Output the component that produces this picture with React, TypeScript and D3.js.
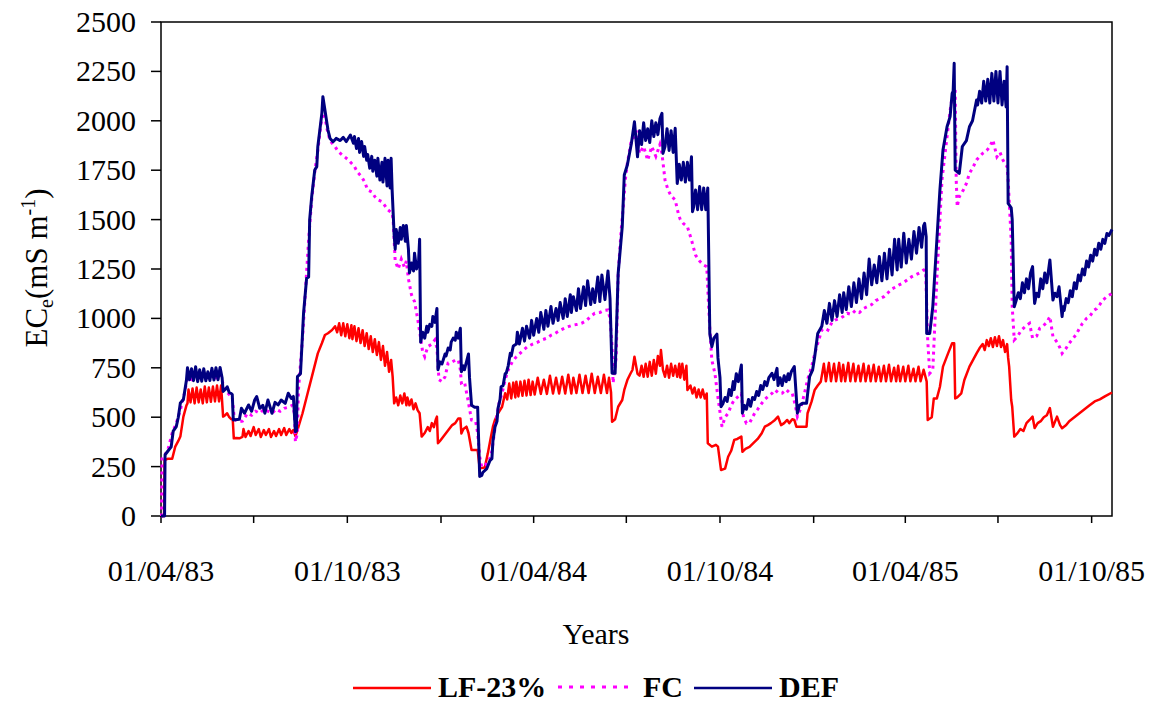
import React from 'react';
import * as d3 from 'd3';

const START = new Date(1983, 3, 1);
const END = new Date(1985, 9, 21);

const yTicks = [0, 250, 500, 750, 1000, 1250, 1500, 1750, 2000, 2250, 2500];
const xTickDates = ['1983-04-01', '1983-07-01', '1983-10-01', '1984-01-01', '1984-04-01', '1984-07-01', '1984-10-01', '1985-01-01', '1985-04-01', '1985-07-01', '1985-10-01'];
const xLabelDates = ['1983-04-01', '1983-10-01', '1984-04-01', '1984-10-01', '1985-04-01', '1985-10-01'];
const xLabels = ['01/04/83', '01/10/83', '01/04/84', '01/10/84', '01/04/85', '01/10/85'];
const seriesNames = ['LF-23%', 'FC', 'DEF'];

// days since 01/04/83 and EC values (mS m-1), DEF
const defDays = [0, 3.5, 4, 7, 10, 12, 15, 17, 19, 22, 25, 26, 28, 30, 32, 34, 36, 38, 40, 42, 44, 46, 48, 50, 52, 54, 56, 58, 60, 61, 63, 65, 67, 69, 70, 71, 77, 79, 82, 86, 89, 92, 94, 97, 100, 102, 105, 109, 112, 115, 118, 122, 125, 128, 130, 132, 133, 134, 137, 140, 143, 145, 146, 148, 151, 153, 154, 156, 158, 159, 161, 163, 164, 166, 169, 172, 176, 179, 182, 186, 189, 190, 192, 194, 195, 197, 199, 200, 202, 203, 205, 207, 208, 210, 212, 213, 215, 217, 218, 220, 222, 223, 225, 226, 227, 229, 230, 231, 233, 235, 236, 238, 240, 241, 243, 244, 246, 248, 249, 251, 253, 254, 255, 257, 259, 261, 262, 264, 266, 267, 269, 271, 272, 274, 276, 279, 280, 282, 284, 285, 287, 289, 290, 292, 294, 295, 297, 298, 302, 303, 305, 308, 311, 313, 315, 316, 320, 323, 325, 326, 328, 330, 331, 333, 334, 336, 338, 339, 341, 343, 344, 346, 349, 350, 352, 355, 357, 359, 362, 364, 366, 369, 371, 373, 376, 378, 380, 383, 385, 388, 390, 392, 395, 397, 399, 402, 403, 405, 408, 410, 412, 415, 417, 419, 422, 424, 426, 429, 431, 433, 436, 439, 441, 443, 446, 449, 453, 455, 458, 462, 465, 468, 470, 472, 474, 476, 478, 480, 482, 484, 486, 488, 490, 492, 493, 495, 497, 499, 501, 503, 505, 507, 508, 509, 511, 513, 515, 517, 519, 521, 522, 523, 525, 527, 529, 531, 533, 535, 537, 538, 539, 541, 543, 546, 547, 549, 550, 552, 554, 556, 558, 560, 562, 563, 565, 567, 570, 571, 573, 575, 577, 579, 581, 583, 585, 587, 589, 591, 593, 595, 597, 600, 602, 605, 606, 608, 610, 612, 614, 616, 617, 619, 622, 625, 627, 630, 634, 637, 640, 642, 645, 649, 651.5, 654, 656.5, 659, 661.5, 664, 666.5, 669, 670.5, 673, 675.5, 678, 680.5, 683, 685.5, 688, 690.5, 693, 695.5, 698, 700.5, 703, 705.5, 708, 710.5, 713, 715.5, 718, 720.5, 723, 724.5, 727, 729.5, 732, 734.5, 737, 739.5, 742, 744.5, 747, 749, 750, 751.5, 752, 755, 758, 762, 765, 768, 772, 775, 777, 778, 779, 780, 784, 787, 791, 794, 797, 801, 802, 804, 806, 808, 810, 812, 814, 816, 818, 820, 822, 824, 826, 828, 830, 831, 832, 835, 836, 838, 840, 842, 844, 846, 848, 850, 852, 854, 856, 858, 860, 862, 864, 866, 868, 870, 873, 876, 878, 880, 882, 885, 886, 887, 889, 891, 893, 895, 897, 899, 901, 903, 905, 907, 909, 911, 913, 915, 917, 919, 921, 923, 925, 927, 929, 931, 934];
const defVals = [0, 0, 310, 330, 350, 430, 452, 500, 572, 590, 688, 750, 690, 745, 685, 755, 680, 740, 682, 745, 684, 730, 686, 748, 688, 750, 690, 752, 700, 630, 640, 654, 625, 620, 615, 486, 490, 545, 520, 562, 530, 587, 604, 545, 560, 520, 587, 520, 575, 562, 587, 570, 621, 595, 605, 427, 430, 705, 720, 1026, 1203, 1210, 1498, 1616, 1751, 1768, 1869, 1953, 2038, 2122, 2055, 1987, 1953, 1911, 1894, 1911, 1900, 1916, 1895, 1928, 1886, 1920, 1860, 1910, 1840, 1895, 1820, 1870, 1800, 1830, 1760, 1820, 1745, 1800, 1720, 1810, 1700, 1790, 1690, 1810, 1670, 1800, 1660, 1810, 1650, 1420, 1350, 1450, 1380, 1460, 1400, 1470, 1390, 1470, 1350, 1230, 1280, 1240, 1330, 1250, 1290, 1400, 880, 930, 900, 960, 930, 970, 960, 1010, 980, 1050, 740, 780, 770, 820, 810, 850, 840, 880, 900, 890, 930, 900, 950, 730, 760, 740, 820, 700, 560, 550, 550, 200, 205, 220, 240, 280, 290, 380, 450, 480, 545, 590, 654, 660, 720, 722, 760, 823, 810, 860, 870, 930, 870, 950, 885, 960, 900, 990, 915, 1000, 930, 1030, 945, 1040, 960, 1060, 975, 1050, 990, 1080, 1000, 1100, 1010, 1120, 1030, 1110, 1040, 1150, 1050, 1160, 1065, 1190, 1070, 1150, 1080, 1210, 1085, 1220, 1095, 1240, 1100, 722, 722, 1228, 1464, 1726, 1776, 1886, 1995, 1818, 1950, 1880, 1990, 1900, 1960, 1890, 2000, 1920, 1990, 1930, 2010, 2038, 1835, 1870, 1960, 1850, 1950, 1840, 1962, 1683, 1720, 1780, 1700, 1790, 1690, 1790, 1700, 1818, 1540, 1560, 1650, 1550, 1667, 1550, 1660, 1550, 1660, 1300, 924, 857, 900, 920, 800, 700, 553, 570, 600, 580, 640, 610, 680, 640, 720, 680, 764, 520, 560, 540, 590, 555, 600, 590, 630, 610, 660, 640, 680, 660, 700, 722, 690, 747, 660, 700, 660, 710, 680, 720, 690, 730, 756, 520, 560, 570, 570, 705, 740, 806, 924, 960, 1040, 975, 1076, 990, 1090, 1010, 1120, 1030, 1130, 1045, 1160, 1060, 1180, 1080, 1200, 1100, 1230, 1120, 1300, 1170, 1270, 1180, 1313, 1190, 1330, 1200, 1350, 1220, 1400, 1245, 1400, 1260, 1431, 1280, 1400, 1300, 1440, 1330, 1460, 1360, 1470, 1481, 1413, 924, 924, 1059, 1397, 1650, 1852, 1970, 2021, 2139, 2150, 2291, 1751, 1734, 1870, 1900, 1970, 2000, 2105, 2080, 2150, 2090, 2200, 2100, 2210, 2090, 2240, 2100, 2250, 2090, 2250, 2080, 2200, 2070, 2274, 1582, 1560, 1500, 1059, 1093, 1130, 1100, 1180, 1130, 1200, 1150, 1230, 1262, 1076, 1127, 1110, 1200, 1150, 1230, 1180, 1296, 1093, 1127, 1110, 1160, 1009, 1059, 1040, 1100, 1080, 1140, 1110, 1180, 1150, 1220, 1190, 1250, 1220, 1290, 1260, 1320, 1290, 1350, 1320, 1380, 1350, 1400, 1380, 1430, 1420, 1450];

// FC
const fcDays = [0, 0.5, 1, 4, 7, 11, 15, 19, 23, 26, 30, 34, 38, 42, 46, 50, 54, 58, 60, 62, 66, 70, 72, 76, 80, 85, 89, 93, 97, 101, 105, 109, 113, 117, 121, 125, 129, 131, 132, 134, 135, 139, 142, 145, 148, 151, 154, 157, 159, 161, 163, 166, 169, 171, 174, 178, 181, 184, 188, 190, 193, 197, 200, 203, 207, 210, 213, 217, 220, 223, 227, 228, 230, 233, 236, 239, 241, 243, 246, 249, 252, 255, 257, 259, 262, 266, 269, 271, 273, 276, 279, 282, 286, 289, 292, 294, 295, 298, 301, 305, 309, 311, 313, 315, 319, 323, 325, 329, 332, 335, 338, 341, 345, 348, 352, 356, 360, 365, 370, 374, 379, 383, 387, 392, 396, 400, 404, 409, 413, 418, 422, 426, 431, 435, 439, 441, 443, 444, 447, 449, 452, 454, 456, 458, 462, 465, 467, 470, 474, 478, 482, 486, 490, 492, 495, 498, 501, 505, 508, 510, 513, 517, 521, 525, 529, 533, 536, 537.5, 539, 541, 544, 547, 551, 554, 557, 560, 563, 566, 570, 572, 575, 578, 583, 586, 590, 593, 596, 600, 603, 607, 610, 614, 617, 620, 623, 625, 628, 632, 635, 639, 642, 645, 649, 652, 655, 659, 662, 667, 670, 674, 678, 682, 686, 690, 694, 698, 702, 706, 710, 714, 718, 722, 725, 729, 733, 737, 741, 745, 749, 751, 753, 755, 758, 762, 767, 772, 775, 777, 780, 781, 782, 784, 788, 791, 794, 797, 801, 804, 807, 811, 814, 817, 821, 824, 827, 831, 832, 835, 836, 838, 841, 845, 849, 853, 856, 860, 863, 866, 870, 873, 876, 880, 883, 885, 889, 892, 896, 899, 902, 905, 909, 912, 916, 919, 922, 925, 929, 934];
const fcVals = [0, 0, 300, 310, 340, 420, 470, 536, 620, 700, 690, 720, 700, 710, 690, 715, 700, 720, 690, 640, 620, 600, 490, 477, 480, 520, 510, 530, 520, 540, 530, 520, 540, 530, 545, 550, 560, 520, 376, 420, 640, 900, 1150, 1400, 1600, 1740, 1850, 1980, 2040, 2020, 1960, 1900, 1880, 1869, 1845, 1827, 1815, 1802, 1780, 1768, 1740, 1717, 1690, 1650, 1640, 1616, 1600, 1591, 1570, 1549, 1532, 1500, 1290, 1250, 1300, 1260, 1290, 1200, 1120, 1085, 1000, 900, 830, 806, 857, 870, 891, 850, 690, 680, 705, 774, 780, 789, 790, 740, 673, 680, 600, 486, 480, 420, 300, 248, 260, 290, 330, 480, 570, 622, 690, 739, 780, 800, 820, 840, 857, 870, 880, 891, 900, 915, 924, 940, 950, 958, 965, 970, 975, 990, 1010, 1026, 1030, 1040, 1043, 1000, 857, 673, 800, 1228, 1450, 1565, 1700, 1785, 1903, 1920, 1950, 1835, 1870, 1800, 1870, 1820, 1880, 1835, 1700, 1650, 1620, 1599, 1532, 1500, 1480, 1464, 1397, 1320, 1290, 1270, 1262, 1100, 950, 789, 722, 600, 452, 500, 520, 560, 587, 600, 620, 500, 469, 470, 520, 540, 570, 590, 604, 620, 638, 620, 621, 640, 625, 621, 560, 503, 540, 621, 690, 756, 820, 874, 941, 950, 941, 980, 992, 1000, 1010, 1026, 1020, 1040, 1030, 1050, 1060, 1070, 1090, 1100, 1110, 1130, 1150, 1160, 1170, 1180, 1195, 1210, 1220, 1230, 1245, 1240, 891, 722, 740, 1200, 1700, 1920, 2050, 2122, 2156, 1700, 1565, 1616, 1650, 1683, 1734, 1760, 1802, 1820, 1835, 1850, 1869, 1903, 1818, 1840, 1800, 1768, 1700, 1397, 1059, 891, 908, 940, 960, 975, 900, 910, 950, 960, 980, 1009, 908, 880, 850, 823, 850, 874, 900, 920, 950, 975, 1000, 1009, 1040, 1050, 1070, 1093, 1110, 1127];

// LF-23%
const lfDays = [0, 3, 3.5, 7, 11, 14, 17, 19, 22, 25, 26, 27, 29, 31, 33, 35, 37, 39, 41, 43, 45, 47, 49, 51, 53, 55, 57, 59, 61, 63, 65, 67, 69, 70.5, 71.5, 74, 77, 80, 81, 83, 86, 88, 91, 93, 96, 98, 101, 103, 106, 108, 111, 113, 116, 118, 121, 123, 126, 128, 130, 132, 134, 139, 144, 149, 154, 158, 161, 164, 168, 171, 173, 175, 177, 179, 181, 183, 185, 187, 188, 190, 192, 194, 196, 198, 200, 202, 204, 206, 208, 210, 212, 214, 216, 218, 220, 222, 224, 226, 227.5, 229, 231, 233, 235, 237, 239, 241, 242, 244, 246, 248, 250, 252, 254, 256, 259, 262, 264, 266, 268, 270, 271, 272, 274, 277, 280, 283, 286, 289, 292, 294, 295, 297, 300, 302, 305, 311, 313, 318, 321, 324, 326, 328, 331, 335, 338, 340, 342, 344, 346, 348, 349, 351, 353, 355, 357, 359, 361, 363, 365, 367, 370, 373, 376, 379, 382, 385, 388, 391, 394, 397, 400, 403, 405, 408, 411, 414, 417, 420, 423, 426, 429, 432, 435, 438, 440, 442, 443, 446, 449, 453, 455, 458, 461, 463, 465, 468, 470, 472, 474, 476, 478, 480, 482, 484, 486, 488, 490, 491, 493, 495, 497, 499, 501, 503, 505, 507, 509, 510, 512, 514, 516, 517, 520, 522, 524, 526, 528, 530, 532, 534, 536, 537, 541, 545, 547, 550, 554, 557, 560, 563, 566, 570, 571, 574, 578, 582, 586, 590, 593, 596, 599, 603, 606, 609, 612, 615, 617, 620, 622, 624, 629, 634, 635, 639, 642, 645, 648, 651, 653, 656, 658, 661, 663, 666, 668, 670, 672, 675, 677, 680, 682, 685, 687, 690, 692, 695, 697, 700, 702, 705, 707, 710, 712, 715, 717, 720, 722, 724, 726, 729, 731, 734, 736, 739, 741, 744, 746, 749, 751, 752, 753, 757, 759, 762, 765, 768, 773, 777, 779, 780, 782, 786, 789, 794, 801, 804, 807, 809, 811, 813, 815, 817, 819, 821, 823, 825, 827, 829, 831, 832, 833, 835, 836, 838, 841, 844, 847, 850, 853, 856, 858, 861, 864, 867, 870, 873, 876, 880, 883, 885, 889, 892, 897, 902, 907, 912, 917, 922, 927, 934];
const lfVals = [0, 0, 283, 290, 290, 351, 380, 402, 503, 560, 570, 640, 575, 645, 570, 650, 575, 640, 570, 655, 575, 650, 578, 655, 580, 660, 580, 660, 503, 510, 520, 500, 490, 486, 393, 395, 393, 400, 440, 400, 430, 405, 450, 410, 440, 400, 435, 410, 440, 400, 430, 405, 440, 410, 445, 410, 440, 420, 435, 405, 435, 520, 621, 722, 823, 874, 916, 925, 941, 960, 930, 975, 915, 975, 910, 970, 900, 965, 895, 960, 885, 950, 875, 940, 860, 925, 845, 910, 830, 895, 815, 880, 790, 860, 760, 830, 730, 790, 705, 570, 600, 560, 610, 570, 620, 560, 600, 560, 590, 540, 570, 536, 520, 402, 420, 450, 430, 470, 450, 490, 503, 368, 380, 400, 420, 440, 460, 470, 494, 494, 418, 440, 452, 420, 334, 334, 241, 245, 317, 400, 452, 486, 520, 553, 621, 590, 670, 595, 675, 600, 680, 605, 680, 608, 685, 610, 690, 612, 680, 615, 700, 618, 690, 618, 710, 620, 700, 620, 705, 620, 715, 620, 700, 622, 715, 622, 710, 622, 720, 622, 705, 622, 715, 622, 700, 625, 477, 490, 553, 587, 638, 688, 720, 739, 806, 720, 710, 760, 705, 770, 705, 780, 710, 790, 720, 810, 760, 840, 740, 705, 760, 700, 770, 710, 760, 705, 770, 700, 770, 690, 760, 638, 660, 620, 650, 600, 640, 600, 640, 595, 620, 368, 351, 360, 351, 233, 240, 300, 330, 385, 390, 402, 325, 340, 350, 370, 390, 419, 452, 460, 470, 486, 503, 460, 470, 486, 470, 490, 486, 452, 452, 452, 520, 580, 638, 660, 680, 770, 682, 775, 682, 770, 682, 775, 682, 765, 682, 775, 682, 770, 682, 760, 682, 770, 682, 760, 682, 765, 682, 755, 682, 760, 682, 765, 682, 750, 682, 760, 682, 755, 682, 760, 682, 745, 682, 755, 682, 740, 700, 680, 486, 500, 595, 595, 654, 756, 823, 874, 874, 595, 600, 621, 688, 756, 823, 850, 870, 840, 890, 860, 900, 855, 905, 860, 910, 855, 890, 830, 870, 800, 756, 587, 553, 402, 418, 440, 430, 470, 486, 503, 445, 470, 480, 500, 510, 546, 452, 503, 460, 444, 460, 480, 500, 520, 540, 560, 580, 590, 605, 625];

const FONT = '"Liberation Serif", "Times New Roman", Times, serif';

function toDate(day: number): Date {
  return new Date(START.getTime() + day * 86400000);
}
function parseDate(s: string): Date {
  const [yy, mm, dd] = s.split('-').map(Number);
  return new Date(yy, mm - 1, dd);
}

export default function App() {
  const left = 161, right = 1112, top = 22, bottom = 516;
  const x = d3.scaleTime().domain([START, END]).range([left, right]);
  const y = d3.scaleLinear().domain([0, 2500]).range([bottom, top]);
  const mk = (days: number[], vals: number[]) =>
    d3.line<number>()
      .x((_, i) => x(toDate(days[i])))
      .y((_, i) => y(vals[i]))(vals) as string;

  const lfPath = mk(lfDays, lfVals);
  const fcPath = mk(fcDays, fcVals);
  const defPath = mk(defDays, defVals);

  const colors = ['#FF0000', '#FF00FF', '#000080'];
  const ts: React.CSSProperties = { fontFamily: FONT };

  return (
    <svg width={1155} height={702} style={{ position: 'absolute', left: 0, top: 0, background: '#fff' }}>
      <rect x={0} y={0} width={1155} height={702} fill="#fff" />
      <rect x={left} y={top} width={right - left} height={bottom - top} fill="none" stroke="#000" strokeWidth={1.5} />
      {yTicks.map(t => (
        <g key={'y' + t}>
          <line x1={left - 10} x2={left} y1={y(t)} y2={y(t)} stroke="#000" strokeWidth={1.5} />
          <text x={136} y={y(t) + 10} textAnchor="end" fontSize={30} style={ts}>{t}</text>
        </g>
      ))}
      {xTickDates.map(d => (
        <line key={'x' + d} x1={x(parseDate(d))} x2={x(parseDate(d))} y1={bottom} y2={bottom + 7} stroke="#000" strokeWidth={1.5} />
      ))}
      {xLabelDates.map((d, i) => (
        <text key={'xl' + d} x={x(parseDate(d))} y={581} textAnchor="middle" fontSize={30} style={ts}>{xLabels[i]}</text>
      ))}
      <path d={lfPath} fill="none" stroke={colors[0]} strokeWidth={2.5} strokeLinejoin="round" />
      <path d={fcPath} fill="none" stroke={colors[1]} strokeWidth={3} strokeDasharray="3 4" />
      <path d={defPath} fill="none" stroke={colors[2]} strokeWidth={3} strokeLinejoin="round" />
      <text x={596} y={644} textAnchor="middle" fontSize={30} style={ts}>Years</text>
      <text transform="translate(47,268) rotate(-90)" textAnchor="middle" fontSize={31} style={ts}>
        <tspan>EC</tspan>
        <tspan fontSize={20} dy={6}>e</tspan>
        <tspan dy={-6}>(mS m</tspan>
        <tspan fontSize={20} dy={-12}>-1</tspan>
        <tspan dy={12}>)</tspan>
      </text>
      <line x1={353} x2={431} y1={688} y2={688} stroke={colors[0]} strokeWidth={2.5} />
      <text x={438} y={697} fontSize={30} fontWeight="bold" style={ts}>{seriesNames[0]}</text>
      <line x1={558} x2={632} y1={687} y2={687} stroke={colors[1]} strokeWidth={3} strokeDasharray="4 7" />
      <text x={643} y={697} fontSize={30} fontWeight="bold" style={ts}>{seriesNames[1]}</text>
      <line x1={694} x2={772} y1={688} y2={688} stroke={colors[2]} strokeWidth={2.5} />
      <text x={779} y={697} fontSize={30} fontWeight="bold" style={ts}>{seriesNames[2]}</text>
    </svg>
  );
}
